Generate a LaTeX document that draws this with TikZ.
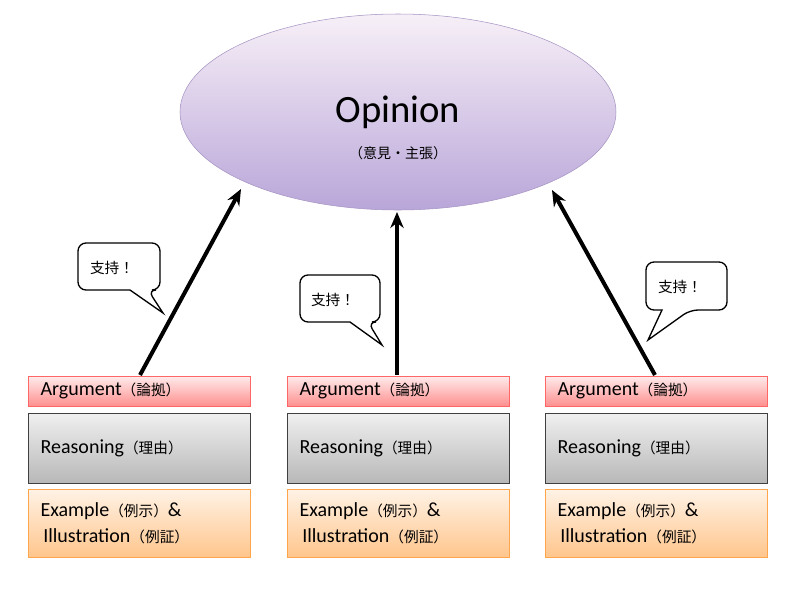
\documentclass[tikz,border=0pt]{standalone}
\usepackage{fontspec}
\setmainfont{Carlito}
\newfontfamily\cjk{Noto Sans CJK JP}
\usetikzlibrary{arrows.meta,shapes.geometric}
\definecolor{ellB}{HTML}{B9A6D9}
\begin{document}
\begin{tikzpicture}[x=0.75pt,y=-0.75pt,
  box/.style={draw, rectangle, minimum width=166.5pt, anchor=north west, align=left, inner sep=0pt, text width=160pt, font=\fontsize{15}{20}\selectfont},
  arg/.style={box, draw=red!60!white, top color=red!8, bottom color=red!40!pink!80, minimum height=22.5pt},
  rea/.style={box, draw=black!75, top color=black!6, bottom color=black!28, minimum height=52.5pt},
  exa/.style={box, draw=orange!70, top color=orange!10, bottom color=orange!45, minimum height=51pt},
  arr/.style={line width=3pt, -{Stealth[length=12pt,width=10pt]}},
  bub/.style={draw=black, line width=1pt, fill=white, rounded corners=6pt},
  btxt/.style={font=\cjk\fontsize{11}{13}\selectfont}]
\useasboundingbox (0,0) rectangle (800,600);
\node[ellipse, minimum width=327pt, minimum height=147pt, draw=ellB!90!black, top color=violet!6, bottom color=ellB, align=center] (op) at (398,112) {};
\node[font=\fontsize{29}{32}\selectfont] (opt) at (398,112) {Opinion};
\node[font=\cjk\fontsize{10.5}{12}\selectfont] (ops) at (398,153) {（意見・主張）};
\foreach \i/\x in {1/28,2/287,3/545}{
  \node[arg] (a\i) at (\x,376) {\hspace{6pt}Argument{\cjk\fontsize{11}{13}\selectfont（論拠）}};
  \node[rea] (r\i) at (\x,413) {\hspace{6pt}Reasoning{\cjk\fontsize{11}{13}\selectfont（理由）}};
  \node[exa] (e\i) at (\x,489) {\hspace{6pt}Example{\cjk\fontsize{11}{13}\selectfont（例示）}\&\\\hspace{8pt}Illustration{\cjk\fontsize{11}{13}\selectfont（例証）}};
}
\coordinate (s1) at (140,375); \coordinate (t1) at (241,189);
\coordinate (s2) at (397,375); \coordinate (t2) at (397,212);
\coordinate (s3) at (655,375); \coordinate (t3) at (552,190);
\draw[arr] (s1) -- (t1);
\draw[arr] (s2) -- (t2);
\draw[arr] (s3) -- (t3);
% bubbles
\draw[bub] (78,243) -- (160,243) -- (160,290) -- (148,290) [sharp corners] -- (163,313) -- (130,290) [rounded corners=6pt] -- (78,290) -- cycle;
\node[btxt] (b1) at (112,268) {支持！};
\draw[bub] (300,275) -- (380,275) -- (380,322) -- (368,322) [sharp corners] -- (382,345) -- (350,322) [rounded corners=6pt] -- (300,322) -- cycle;
\node[btxt] (b2) at (333,300) {支持！};
\draw[bub] (646,262) -- (727,262) -- (727,310) -- (690,310) [sharp corners] -- (648,340) -- (662,310) [rounded corners=6pt] -- (646,310) -- cycle;
\node[btxt] (b3) at (680,287) {支持！};
\end{tikzpicture}
\end{document}
